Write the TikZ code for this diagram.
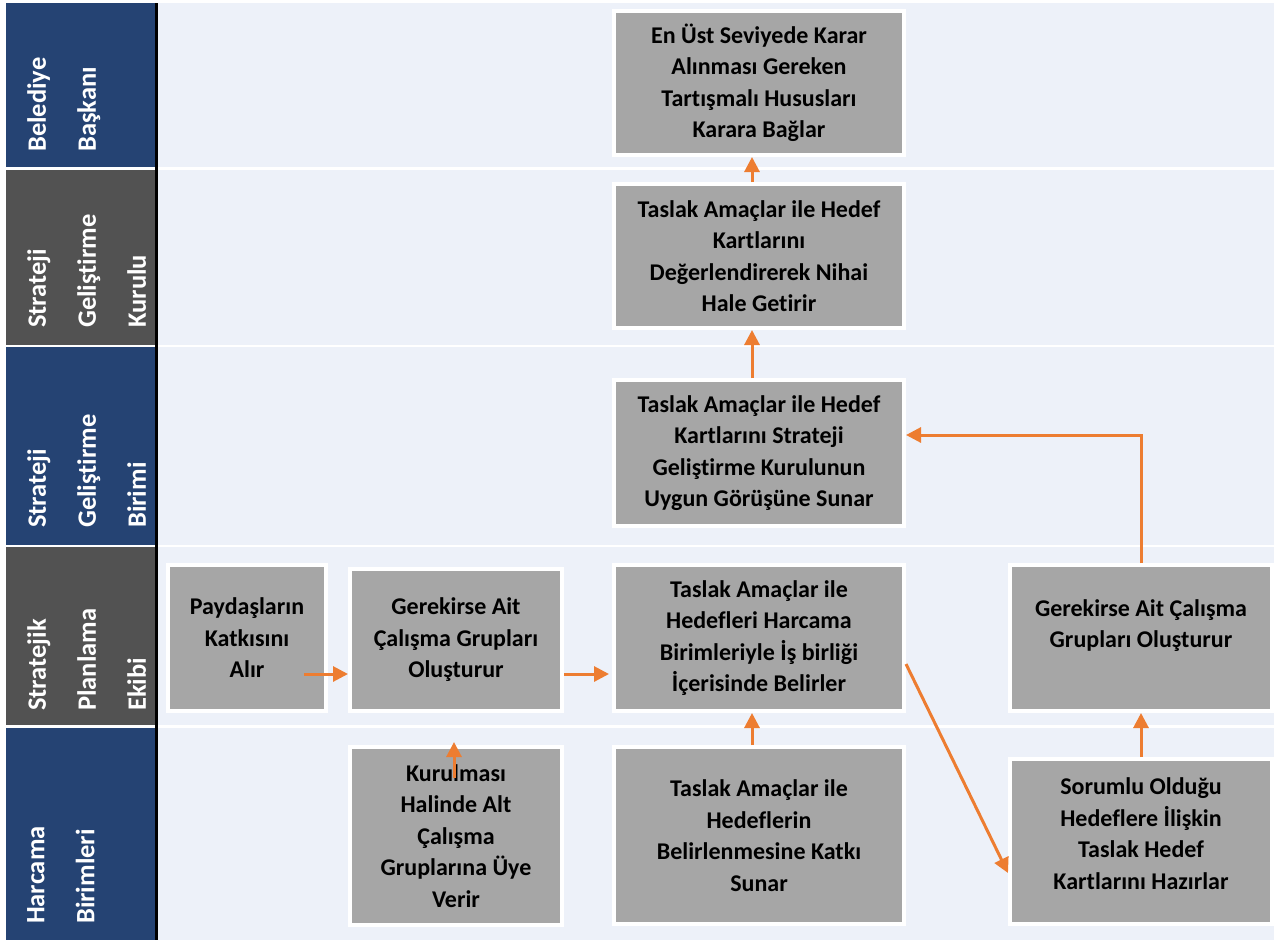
\documentclass[tikz,border=0pt]{standalone}
\usepackage{fontspec}
\setmainfont{Carlito}[Ligatures=NoCommon]
\usetikzlibrary{arrows.meta,calc}
\definecolor{navy}{HTML}{254373}
\definecolor{hgray}{HTML}{525252}
\definecolor{lanebg}{HTML}{EDF1F9}
\definecolor{boxgray}{HTML}{A6A6A6}
\definecolor{arrorange}{HTML}{ED7D31}
\begin{document}
\begin{tikzpicture}[x=1pt,y=-1pt,
  box/.style={draw=white,line width=4pt,fill=boxgray,align=center,inner sep=0pt,text=black,
    font=\fontsize{24}{31.5}\selectfont\bfseries},
  arr/.style={draw=arrorange,line width=3pt,-{Triangle[length=15pt,width=15pt]}},
  hdr/.style={rotate=90,anchor=north west,align=left,inner sep=0pt,text=white,
    font=\fontsize{26.5}{50}\selectfont\bfseries}]
\useasboundingbox (0,0) rectangle (1274,940);
\fill[white] (0,0) rectangle (1274,940);
% lanes
\fill[navy]  (6,3) rectangle (155,167);
\fill[hgray] (6,170) rectangle (155,345);
\fill[navy]  (6,347) rectangle (155,545);
\fill[hgray] (6,547) rectangle (155,725);
\fill[navy]  (6,728) rectangle (155,940);
\fill[lanebg] (158,3) rectangle (1274,167);
\fill[lanebg] (158,170) rectangle (1274,345);
\fill[lanebg] (158,347) rectangle (1274,545);
\fill[lanebg] (158,547) rectangle (1274,725);
\fill[lanebg] (158,728) rectangle (1274,940);
\fill[black] (155,3) rectangle (157.5,940);
% headers
\node[hdr] (h1) at (27,152) {Belediye\\Başkanı};
\node[hdr] (h2) at (27,328) {Strateji\\Geliştirme\\Kurulu};
\node[hdr] (h3) at (27,528) {Strateji\\Geliştirme\\Birimi};
\node[hdr] (h4) at (27,711) {Stratejik\\Planlama\\Ekibi};
\node[hdr] (h5) at (27,924) {Harcama\\Birimleri};
% boxes
\node[box,minimum width=290pt,minimum height=144pt] (B1) at (759,83)
  {En Üst Seviyede Karar\\Alınması Gereken\\Tartışmalı Hususları\\Karara Bağlar};
\node[box,minimum width=290pt,minimum height=144pt] (B2) at (759,256)
  {Taslak Amaçlar ile Hedef\\Kartlarını\\Değerlendirerek Nihai\\Hale Getirir};
\node[box,minimum width=290pt,minimum height=146pt] (B3) at (759,453)
  {Taslak Amaçlar ile Hedef\\Kartlarını Strateji\\Geliştirme Kurulunun\\Uygun Görüşüne Sunar};
\node[box,minimum width=158pt,minimum height=146pt] (B4) at (247,638)
  {Paydaşların\\Katkısını\\Alır};
\node[box,minimum width=212pt,minimum height=142pt] (B5) at (456,640)
  {Gerekirse Ait\\Çalışma Grupları\\Oluşturur};
\node[box,minimum width=290pt,minimum height=146pt] (B6) at (759,638)
  {Taslak Amaçlar ile\\Hedefleri Harcama\\Birimleriyle İş birliği\\İçerisinde Belirler};
\node[box,minimum width=262pt,minimum height=146pt] (B7) at (1141,638)
  {Gerekirse Ait Çalışma\\Grupları Oluşturur\\[-3pt]\mbox{}};
\node[box,minimum width=212pt,minimum height=178pt] (B8) at (456,836)
  {Kurulması\\Halinde Alt\\Çalışma\\Gruplarına Üye\\Verir};
\node[box,minimum width=290pt,minimum height=177pt] (B9) at (759,835.5)
  {Taslak Amaçlar ile\\Hedeflerin\\Belirlenmesine Katkı\\Sunar};
\node[box,minimum width=262pt,minimum height=165pt] (B10) at (1141,841.5)
  {Sorumlu Olduğu\\Hedeflere İlişkin\\Taslak Hedef\\Kartlarını Hazırlar\\[-15.5pt]\mbox{}};
% arrows
\draw[arr] ($(B2.north)+(-7,0)$) -- ($(B1.south)+(-7,0)$);
\draw[arr] ($(B3.north)+(-7,0)$) -- ($(B2.south)+(-7,0)$);
\draw[arr] ($(B9.north)+(-7,0)$) -- ($(B6.south)+(-7,0)$);
\draw[arr] ($(B4.east)+(-24,36)$) -- ($(B5.west)+(0,34)$);
\draw[arr] ($(B5.east)+(0,34)$) -- ($(B6.west)+(-3,36)$);
\draw[arr] ($(B8.north)+(-2,33)$) -- ($(B8.north)+(-2,-3)$);
\draw[arr] (B7.north) |- ($(B3.east)+(0,-18)$);
\draw[arr] (B10.north) -- (B7.south);
\draw[arr] ($(B6.east)+(0,26)$) -- ($(B10.west)+(0,31.5)$);
\end{tikzpicture}
\end{document}
